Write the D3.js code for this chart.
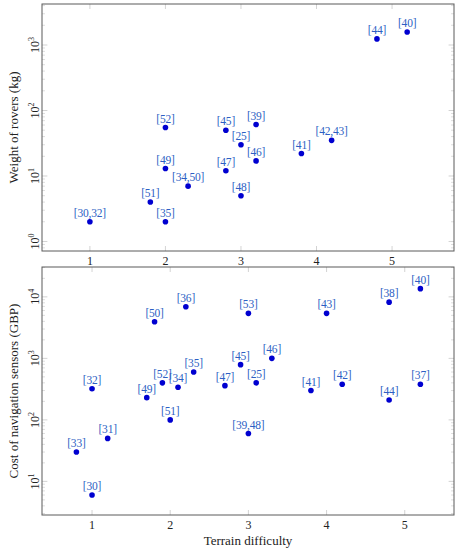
<!DOCTYPE html>
<html>
<head>
<meta charset="utf-8">
<script src="https://cdn.jsdelivr.net/npm/d3@7"></script>
<style>
  body { margin: 0; background: #fff; }
  text { font-family: "Liberation Serif", "DejaVu Serif", serif; }
</style>
</head>
<body>
<svg id="chart" width="462" height="550"></svg>
<script>
// weight of rovers vs terrain difficulty
const weightX = [4.8, 5.2, 2, 2.8, 3.2, 4.2, 3, 3.8, 3.2, 2, 2.8, 2.3, 3, 1.8, 1, 2];
const weightY = [1240, 1580, 55, 50, 61, 35, 30, 22, 17, 13, 12, 7, 5, 4, 2, 2];
const weightRefs = ["[44]", "[40]", "[52]", "[45]", "[39]", "[42,43]", "[25]", "[41]", "[46]",
  "[49]", "[47]", "[34,50]", "[48]", "[51]", "[30,32]", "[35]"];

// cost of navigation sensors vs terrain difficulty
const costX = [5.2, 4.8, 2.2, 1.8, 3, 4, 3.3, 2.9, 2.3, 1.9, 2.1, 2.7, 3.1, 3.8, 4.2, 5.2,
  4.8, 1, 1.7, 2, 3, 1.2, 0.8, 1];
const costY = [13600, 8200, 6900, 3950, 5400, 5400, 1000, 790, 600, 400, 340, 360, 400, 300,
  380, 380, 210, 320, 230, 100, 60, 50, 30, 6];
const costRefs = ["[40]", "[38]", "[36]", "[50]", "[53]", "[43]", "[46]", "[45]", "[35]", "[52]",
  "[34]", "[47]", "[25]", "[41]", "[42]", "[37]", "[44]", "[32]", "[49]", "[51]", "[39,48]",
  "[31]", "[33]", "[30]"];

const xTicks = [1, 2, 3, 4, 5];

const svg = d3.select("#chart");

const addPanel = (props) => {
  const defaultCtx = {
    left: 42,
    right: 454,
    top: 4,
    bottom: 251,
    xDomain: [0.366, 5.82],
    yDomain: [0.716, 4227],
    decades: [0, 1, 2, 3],
    title: "",
    showXLabel: false,
  };
  const ctx = { ...defaultCtx, ...props };
  const g = svg.append("g");

  const x = d3.scaleLinear().domain(ctx.xDomain).range([ctx.left, ctx.right]);
  const y = d3.scaleLog().domain(ctx.yDomain).range([ctx.bottom, ctx.top]);

  // minor log ticks, inside on both sides
  const lo = Math.floor(Math.log10(ctx.yDomain[0]));
  const hi = Math.ceil(Math.log10(ctx.yDomain[1]));
  const minor = [];
  for (let k = lo; k <= hi; ++k) {
    for (let m = 2; m <= 9; ++m) {
      const v = m * Math.pow(10, k);
      if (v > ctx.yDomain[0] && v < ctx.yDomain[1]) minor.push(v);
    }
  }
  const tickColor = "#c8c8c8";
  [[ctx.left, 3], [ctx.right, -3]].forEach(([x0, len]) => {
    g.selectAll(null).data(minor).enter().append("line")
      .attr("x1", x0).attr("x2", x0 + len)
      .attr("y1", (d) => y(d)).attr("y2", (d) => y(d))
      .attr("stroke", tickColor).attr("stroke-width", 0.6);
    g.selectAll(null).data(ctx.decades.map((k) => Math.pow(10, k))).enter().append("line")
      .attr("x1", x0).attr("x2", x0 + len * 1.8)
      .attr("y1", (d) => y(d)).attr("y2", (d) => y(d))
      .attr("stroke", tickColor).attr("stroke-width", 0.8);
  });
  [[ctx.bottom, -5], [ctx.top, 5]].forEach(([y0, len]) => {
    g.selectAll(null).data(xTicks).enter().append("line")
      .attr("x1", (d) => x(d)).attr("x2", (d) => x(d))
      .attr("y1", y0).attr("y2", y0 + len)
      .attr("stroke", tickColor).attr("stroke-width", 0.8);
  });

  // frame
  g.append("rect")
    .attr("x", ctx.left).attr("y", ctx.top)
    .attr("width", ctx.right - ctx.left).attr("height", ctx.bottom - ctx.top)
    .attr("fill", "none").attr("stroke", "#5a5a5a").attr("stroke-width", 1);

  // x tick labels
  g.selectAll(null).data(xTicks).enter().append("text")
    .attr("x", (d) => x(d)).attr("y", ctx.bottom + 14)
    .attr("text-anchor", "middle").attr("font-size", 12).attr("fill", "#222")
    .text((d) => d);

  // y tick labels, rotated 10^k
  ctx.decades.forEach((k) => {
    const t = g.append("text")
      .attr("transform", `translate(39,${y(Math.pow(10, k))}) rotate(-90)`)
      .attr("text-anchor", "middle").attr("font-size", 12).attr("fill", "#222");
    t.append("tspan").text("10");
    t.append("tspan").attr("dy", -5).attr("font-size", 8).text(k);
  });

  // y axis title
  g.append("text")
    .attr("transform", `translate(18,${(ctx.top + ctx.bottom) / 2}) rotate(-90)`)
    .attr("text-anchor", "middle").attr("font-size", 13).attr("fill", "#222")
    .text(ctx.title);

  if (ctx.showXLabel) {
    g.append("text")
      .attr("x", (ctx.left + ctx.right) / 2).attr("y", ctx.bottom + 30)
      .attr("text-anchor", "middle").attr("font-size", 13).attr("fill", "#222")
      .text("Terrain difficulty");
  }

  // points and their reference labels
  const pts = ctx.xs.map((d, i) => ({ x: d, y: ctx.ys[i], ref: ctx.refs[i] }));
  g.selectAll(null).data(pts).enter().append("circle")
    .attr("cx", (d) => x(d.x)).attr("cy", (d) => y(d.y))
    .attr("r", 2.8).attr("fill", "#0000d0");
  g.selectAll(null).data(pts).enter().append("text")
    .attr("x", (d) => x(d.x)).attr("y", (d) => y(d.y) - 5)
    .attr("text-anchor", "middle").attr("font-size", 11.5)
    .attr("letter-spacing", -0.2).attr("fill", "#2d5fc4")
    .text((d) => d.ref);
};

addPanel({
  top: 4,
  bottom: 251,
  xDomain: [0.366, 5.82],
  yDomain: [0.716, 4227],
  decades: [0, 1, 2, 3],
  title: "Weight of rovers (kg)",
  xs: weightX,
  ys: weightY,
  refs: weightRefs,
});

addPanel({
  top: 267,
  bottom: 515,
  xDomain: [0.36, 5.63],
  yDomain: [2.84, 30600],
  decades: [1, 2, 3, 4],
  title: "Cost of navigation sensors (GBP)",
  showXLabel: true,
  xs: costX,
  ys: costY,
  refs: costRefs,
});
</script>
</body>
</html>
